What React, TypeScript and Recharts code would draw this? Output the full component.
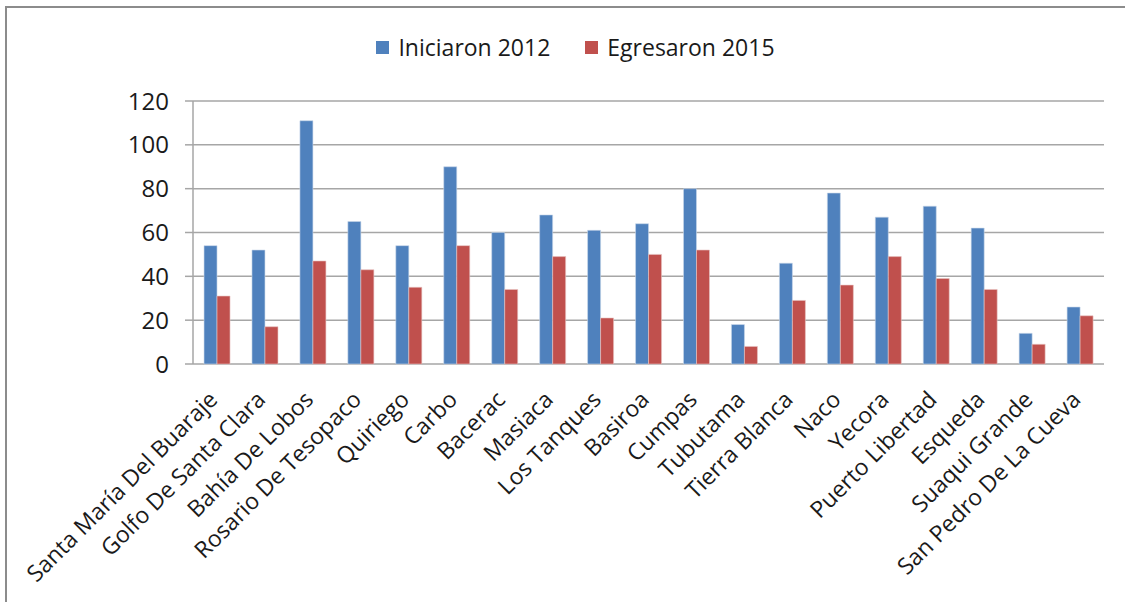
import { BarChart, Bar, XAxis, YAxis, CartesianGrid, Legend } from "recharts";

const categories = [
  "Santa María Del Buaraje",
  "Golfo De Santa Clara",
  "Bahía De Lobos",
  "Rosario De Tesopaco",
  "Quiriego",
  "Carbo",
  "Bacerac",
  "Masiaca",
  "Los Tanques",
  "Basiroa",
  "Cumpas",
  "Tubutama",
  "Tierra Blanca",
  "Naco",
  "Yecora",
  "Puerto Libertad",
  "Esqueda",
  "Suaqui Grande",
  "San Pedro De La Cueva",
];

const iniciaron2012 = [54, 52, 111, 65, 54, 90, 60, 68, 61, 64, 80, 18, 46, 78, 67, 72, 62, 14, 26];
const egresaron2015 = [31, 17, 47, 43, 35, 54, 34, 49, 21, 50, 52, 8, 29, 36, 49, 39, 34, 9, 22];

const yTicks = [0, 20, 40, 60, 80, 100, 120];

const BLUE = "#4F81BD";
const RED = "#C0504D";
const FONT = "'Open Sans', sans-serif";
const LEGEND_H = 28;

const rows = categories.map((name, i) => ({
  name,
  iniciaron: iniciaron2012[i],
  egresaron: egresaron2015[i],
}));

const edgeTicks = categories.map((_, i) => i).concat(categories.length);

function CategoryTick({ x, y, payload }: any) {
  const ax = x + 2;
  const ay = y + 29;
  return (
    <text
      x={ax}
      y={ay}
      transform={`rotate(-45 ${ax} ${ay})`}
      textAnchor="end"
      fontFamily={FONT}
      fontSize={23}
      fill="#1a1a1a"
    >
      {payload.value}
    </text>
  );
}

function LegendContent() {
  const items = [
    { label: "Iniciaron 2012", color: BLUE },
    { label: "Egresaron 2015", color: RED },
  ];
  return (
    <div
      style={{
        display: "flex",
        justifyContent: "center",
        gap: 35,
        height: LEGEND_H,
        lineHeight: `${LEGEND_H}px`,
        paddingLeft: 26,
        fontFamily: FONT,
        fontSize: 23,
        color: "#1a1a1a",
      }}
    >
      {items.map((it) => (
        <div key={it.label} style={{ display: "flex", alignItems: "center" }}>
          <span style={{ display: "inline-block", width: 13, height: 13, background: it.color, marginRight: 9 }} />
          {it.label}
        </div>
      ))}
    </div>
  );
}

export default function App() {
  return (
    <div style={{ position: "absolute", left: 0, top: 0, width: 1125, height: 602, background: "#fff", overflow: "hidden" }}>
      <div
        style={{
          position: "absolute",
          left: 5,
          top: 6,
          width: 1125,
          height: 602,
          borderTop: "2.5px solid #8c8c8c",
          borderLeft: "2.5px solid #8c8c8c",
        }}
      />
      <BarChart
        width={1125}
        height={602}
        data={rows}
        margin={{ top: 101 - LEGEND_H, right: 21, left: 0, bottom: 0 }}
        barCategoryGap="23%"
        barGap={0}
        style={{ position: "absolute", left: 0, top: 0 }}
      >
        <CartesianGrid vertical={false} stroke="#a6a6a6" strokeWidth={1.5} />
        <XAxis
          xAxisId="edges"
          type="number"
          domain={[0, categories.length]}
          ticks={edgeTicks}
          tick={false}
          tickSize={7}
          height={0}
          axisLine={{ stroke: "#a6a6a6", strokeWidth: 1.5 }}
          tickLine={{ stroke: "#a6a6a6", strokeWidth: 1.5 }}
          allowDataOverflow
        />
        <XAxis
          dataKey="name"
          interval={0}
          height={238}
          axisLine={false}
          tickLine={false}
          tick={<CategoryTick />}
        />
        <YAxis
          width={193}
          domain={[0, 120]}
          ticks={yTicks}
          interval={0}
          tickSize={8}
          tickMargin={16}
          axisLine={{ stroke: "#a6a6a6", strokeWidth: 1.5 }}
          tickLine={{ stroke: "#a6a6a6", strokeWidth: 1.5 }}
          tick={{ fontFamily: FONT, fontSize: 24, fill: "#1a1a1a" }}
        />
        <Legend verticalAlign="top" content={<LegendContent />} wrapperStyle={{ top: 33, left: 0, width: 1125 }} />
        <Bar dataKey="iniciaron" name="Iniciaron 2012" fill={BLUE} stroke="#c9d7ea" strokeWidth={0.6} isAnimationActive={false} />
        <Bar dataKey="egresaron" name="Egresaron 2015" fill={RED} stroke="#e8c4c3" strokeWidth={0.6} isAnimationActive={false} />
      </BarChart>
    </div>
  );
}
